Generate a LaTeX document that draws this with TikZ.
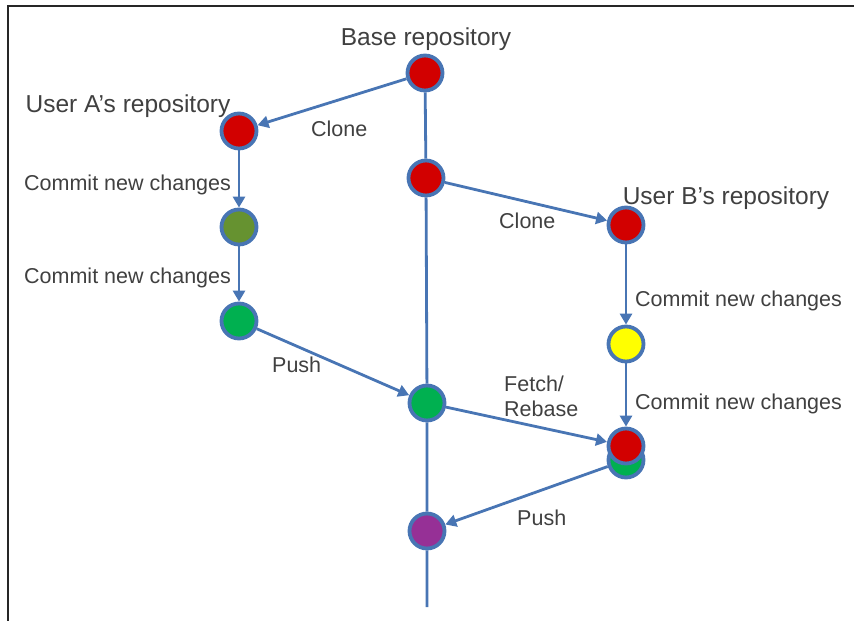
\documentclass[tikz,border=0pt]{standalone}
\usepackage{fontspec}
\setmainfont{Liberation Sans}
\usetikzlibrary{arrows.meta}
\definecolor{lineblue}{RGB}{72,117,180}
\definecolor{cred}{RGB}{210,0,0}
\definecolor{colive}{RGB}{102,146,48}
\definecolor{cgreen}{RGB}{0,176,80}
\definecolor{cyellow}{RGB}{255,255,0}
\definecolor{cpurple}{RGB}{150,48,150}
\definecolor{txt}{RGB}{64,64,64}
\begin{document}
\begin{tikzpicture}[x=1pt,y=-1pt,
  commit/.style={circle,draw=lineblue,line width=3.8pt,minimum size=35pt,inner sep=0pt},
  conn/.style={draw=lineblue,line width=2.8pt,-{Triangle[length=11pt,width=12pt]}},
  trunk/.style={draw=lineblue,line width=2.8pt},
  title/.style={text=txt,font=\fontsize{24.5}{28}\selectfont,inner sep=0pt},
  lbl/.style={text=txt,font=\fontsize{21.5}{26}\selectfont,inner sep=0pt,anchor=west,align=left}]
\useasboundingbox (0,0) rectangle (854,621);
\draw[line width=2.2pt,black!85] (8,621) -- (8,6) -- (854,6);
% nodes
\node[commit,fill=cred] (b1) at (425,73) {};
\node[commit,fill=cred] (b2) at (426,178) {};
\node[commit,fill=cgreen] (b3) at (427,403) {};
\node[commit,fill=cpurple] (b4) at (427,531) {};
\coordinate (bend) at (427,607);
\node[commit,fill=cred] (a1) at (239,131) {};
\node[commit,fill=colive] (a2) at (239,227) {};
\node[commit,fill=cgreen] (a3) at (239,321) {};
\node[commit,fill=cred] (u1) at (626,225) {};
\node[commit,fill=cyellow] (u2) at (626,344) {};
\node[commit,fill=cgreen] (u3g) at (626,460) {};
\node[commit,fill=cred] (u3) at (626,446) {};
% trunk
\draw[trunk] (b1) -- (b2) -- (b3) -- (b4) -- (bend);
% connectors
\draw[conn] (b1) -- (a1);
\draw[conn] (a1) -- (a2);
\draw[conn] (a2) -- (a3);
\draw[conn] (a3) -- (b3);
\draw[conn] (b2) -- (u1);
\draw[conn] (u1) -- (u2);
\draw[conn] (u2) -- (u3);
\draw[conn] (b3) -- (u3);
\draw[conn] (u3g) -- (b4);
% titles
\node[title] (tb) at (426,39) {Base repository};
\node[title] (ta) at (128,106) {User A’s repository};
\node[title] (tu) at (726,198) {User B’s repository};
% labels
\node[lbl] (l1) at (311,129) {Clone};
\node[lbl] (l2) at (24,185) {Commit new changes};
\node[lbl] (l3) at (24,278) {Commit new changes};
\node[lbl] (l4) at (272,365) {Push};
\node[lbl] (l5) at (499,221) {Clone};
\node[lbl] (l6) at (635,301) {Commit new changes};
\node[lbl] (l7) at (635,404) {Commit new changes};
\node[lbl] (l8) at (504,384) {Fetch/};
\node[lbl] (l9) at (504,409) {Rebase};
\node[lbl] (l10) at (517,518) {Push};
\end{tikzpicture}
\end{document}
